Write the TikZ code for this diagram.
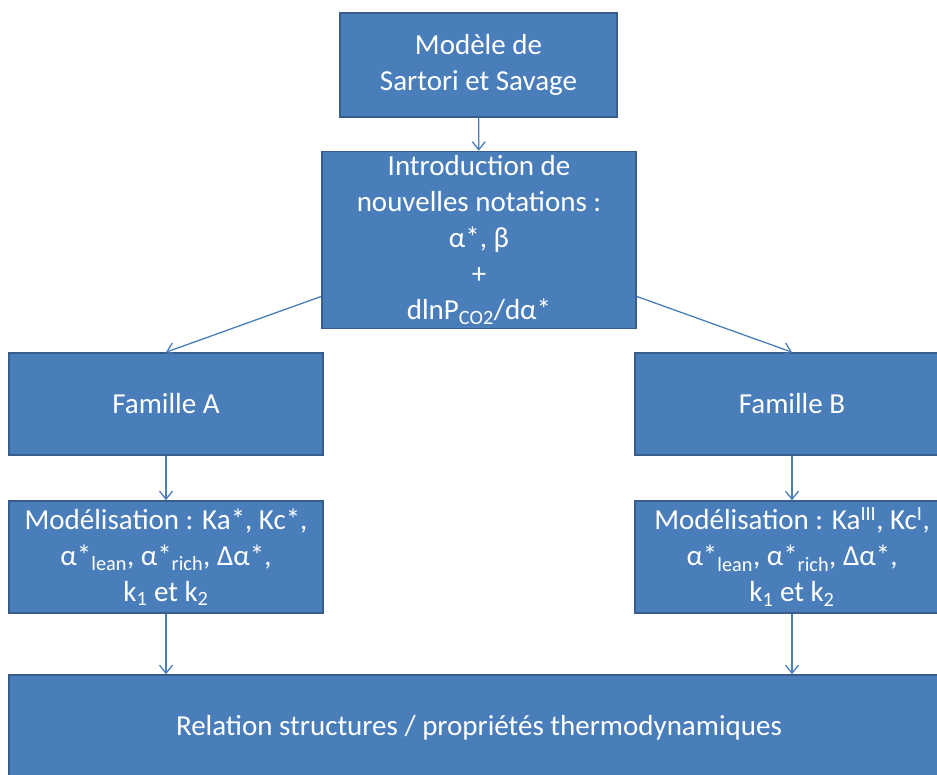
\documentclass[tikz,border=0pt]{standalone}
\usepackage{fontspec}
\setmainfont{Carlito}
\usetikzlibrary{arrows.meta}
\definecolor{boxfill}{RGB}{74,126,187}
\definecolor{boxline}{RGB}{56,93,138}
\definecolor{arrowcol}{RGB}{74,126,187}
\tikzset{
  blockbox/.style={draw=boxline, line width=1.6pt, fill=boxfill, text=white,
    inner sep=0pt, align=center, font=\fontsize{29}{36}\selectfont},
  link/.style={draw=arrowcol, line width=1.3pt, -{Straight Barb[length=8pt,width=13pt]}}
}
\begin{document}
\begin{tikzpicture}[x=1pt,y=-1pt]
\useasboundingbox (0,0) rectangle (937,774);
\clip (0,0) rectangle (937,774);
\node[blockbox, minimum width=277pt, minimum height=104pt] (top) at (478.5,65)
  {Modèle de\\Sartori et Savage};
\node[blockbox, minimum width=314pt, minimum height=177pt] (intro) at (479,240)
  {Introduction de\\nouvelles notations :\\α*, β\\+\\dlnP\textsubscript{CO2}/dα*};
\node[blockbox, minimum width=314pt, minimum height=102pt] (famA) at (166,404) {Famille A};
\node[blockbox, minimum width=314pt, minimum height=102pt] (famB) at (792,404) {Famille B};
\node[blockbox, minimum width=314pt, minimum height=112pt] (modA) at (166,557)
  {Modélisation : Ka*, Kc*,\\α*\textsubscript{lean}, α*\textsubscript{rich}, Δα*,\\k\textsubscript{1} et k\textsubscript{2}};
\node[blockbox, minimum width=314pt, minimum height=112pt] (modB) at (792,557)
  {Modélisation : Ka\textsuperscript{III}, Kc\textsuperscript{I},\\α*\textsubscript{lean}, α*\textsubscript{rich}, Δα*,\\k\textsubscript{1} et k\textsubscript{2}};
\node[blockbox, minimum width=940pt, minimum height=106pt] (rel) at (479,728)
  {Relation structures / propriétés thermodynamiques};
\draw[link] (top) -- (intro);
\draw[link] (intro) -- (famA.north);
\draw[link] (intro) -- (famB.north);
\draw[link] (famA) -- (modA);
\draw[link] (famB) -- (modB);
\draw[link] (modA.south) -- (modA.south |- rel.north);
\draw[link] (modB.south) -- (modB.south |- rel.north);
\end{tikzpicture}
\end{document}
